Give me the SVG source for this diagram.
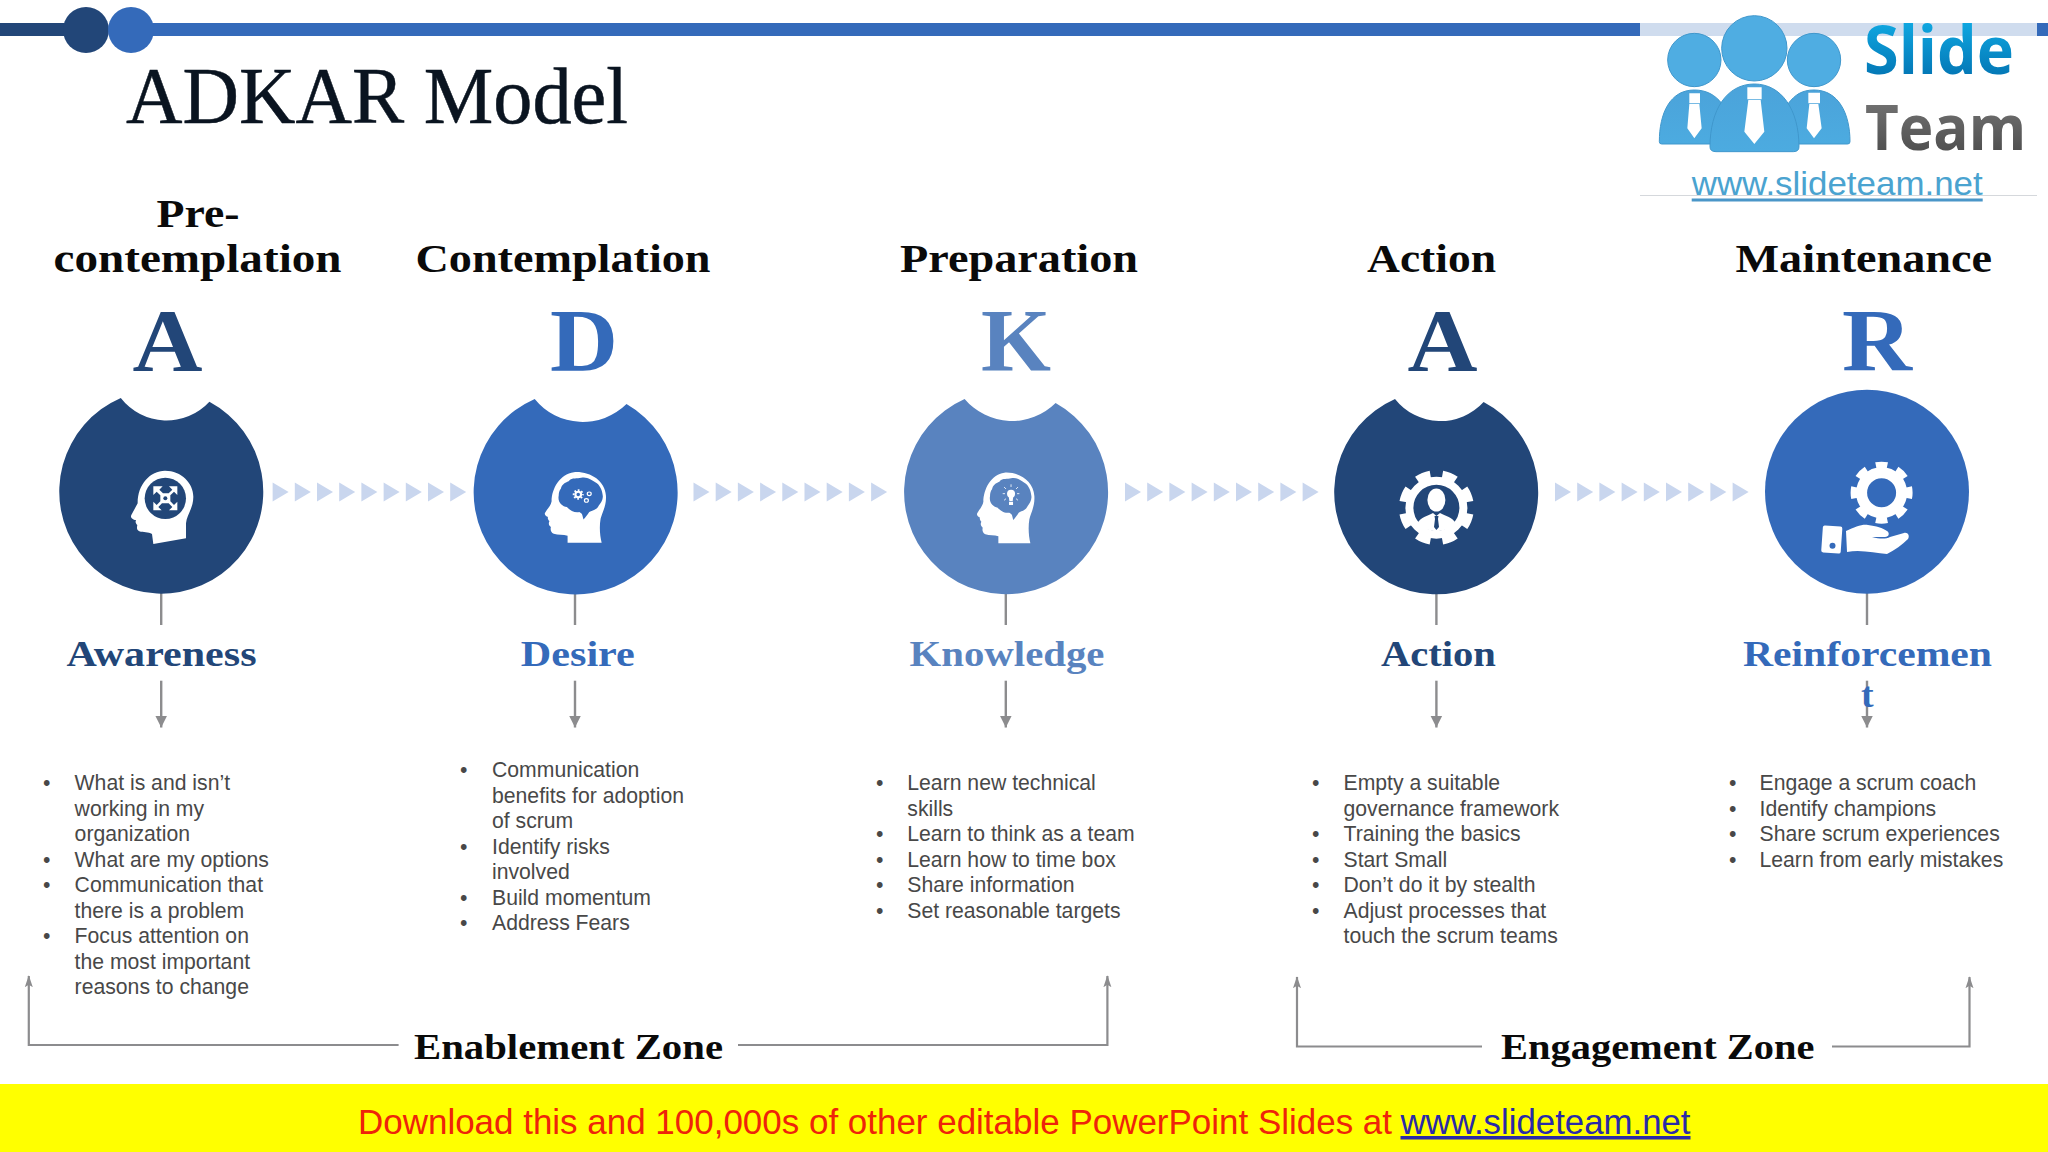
<svg xmlns="http://www.w3.org/2000/svg" width="2048" height="1152" viewBox="0 0 2048 1152">
<style>
.ser{font-family:"Liberation Serif",serif;font-weight:700}
.head{font-size:41px;fill:#0a0a0a;text-anchor:start}
.let{font-size:88px}
.lab{font-size:35px}
.zone{font-size:35px;fill:#0a0a0a}
.body{font-family:"Liberation Sans",Arial,sans-serif;font-size:21.2px;fill:#484848}
.dark{fill:#224678}.mid{fill:#346aba}.light{fill:#5983bf}
.ln{stroke:#8c8c8e;stroke-width:2.4;fill:none}
.zn{stroke:#8c8c8e;stroke-width:2.2;fill:none;marker-end:url(#up)}
.chev{fill:#c9d6ee}
.w{fill:#fff}
</style>
<defs>
<marker id="down" markerUnits="userSpaceOnUse" markerWidth="13" markerHeight="13" refX="12" refY="6" orient="auto" viewBox="0 0 13 12"><path d="M0 0L12 6L0 12Z" fill="#8c8c8e"/></marker>
<marker id="up" markerUnits="userSpaceOnUse" markerWidth="12" markerHeight="16" refX="14" refY="5" orient="auto" viewBox="0 0 15 10"><path d="M0 0L15 5L0 10L3 5Z" fill="#8c8c8e"/></marker>
<linearGradient id="gSlide" x1="0" y1="0" x2="0" y2="1"><stop offset="0" stop-color="#13b8f0"/><stop offset="1" stop-color="#0068a8"/></linearGradient>
<linearGradient id="gTeam" x1="0" y1="0" x2="0" y2="1"><stop offset="0" stop-color="#7d7d7d"/><stop offset="1" stop-color="#454545"/></linearGradient>
<linearGradient id="gBody" x1="0" y1="0" x2="0" y2="1"><stop offset="0" stop-color="#4ba3da"/><stop offset="1" stop-color="#4cabe0"/></linearGradient>
<g id="chevs">
<path class="chev" d="M0 -9.5L16 0L0 9.5Z"/><path class="chev" d="M22.2 -9.5L38.2 0L22.2 9.5Z"/><path class="chev" d="M44.4 -9.5L60.4 0L44.4 9.5Z"/><path class="chev" d="M66.6 -9.5L82.6 0L66.6 9.5Z"/><path class="chev" d="M88.8 -9.5L104.8 0L88.8 9.5Z"/><path class="chev" d="M111 -9.5L127 0L111 9.5Z"/><path class="chev" d="M133.2 -9.5L149.2 0L133.2 9.5Z"/><path class="chev" d="M155.4 -9.5L171.4 0L155.4 9.5Z"/><path class="chev" d="M177.6 -9.5L193.6 0L177.6 9.5Z"/>
</g>
<path id="headShape" d="M125 35C170 32 212 60 215 105C217 135 205 155 200 175C196 200 198 225 203 247L107 247L107 226C95 222 80 224 68 220C60 217 58 208 60 200C55 195 52 190 56 182C52 178 50 172 52 170C46 168 40 162 44 156C50 145 60 135 62 122C62 85 85 40 125 35Z"/>
<path id="brainShape" d="M88 85C90 72 100 66 110 62C120 50 135 56 145 52C160 47 175 58 185 65C198 72 205 90 206 105C208 118 200 128 195 135C188 150 175 150 168 155C162 165 158 170 152 177C148 165 150 160 140 155C125 158 112 148 105 140C92 138 78 125 82 105C82 97 84 90 88 85Z"/>
</defs>

<rect width="2048" height="1152" fill="#fff"/>

<g id="top-bar">
<rect x="0" y="23" width="90" height="13" class="dark"/>
<rect x="131" y="23" width="1509" height="13" class="mid"/>
<rect x="2037" y="23" width="11" height="13" class="mid"/>
<circle cx="86" cy="30" r="23" class="dark"/>
<circle cx="131" cy="30" r="23" class="mid"/>
</g>

<g id="logo">
<rect x="1640" y="0" width="397" height="195" fill="#fff"/>
<rect x="1640" y="23" width="397" height="13" fill="#cfdcee"/>
<line x1="1640" y1="195.5" x2="2037" y2="195.5" stroke="#d5d8dc" stroke-width="1"/>
<g transform="translate(1600 0) scale(.33333)">
<circle cx="283" cy="180" r="80" fill="#4fade2" stroke="#3f97cc" stroke-width="3"/>
<circle cx="642" cy="180" r="80" fill="#4fade2" stroke="#3f97cc" stroke-width="3"/>
<circle cx="463" cy="145" r="98" fill="#4fade2" stroke="#3f97cc" stroke-width="3"/>
<path d="M178 425C178 340 210 270 283 270C320 270 345 285 365 310L365 432L185 432Q178 432 178 425Z" fill="url(#gBody)" stroke="#3f97cc" stroke-width="3"/>
<path d="M750 425C750 340 715 270 642 270C605 270 585 285 565 310L565 432L743 432Q750 432 750 425Z" fill="url(#gBody)" stroke="#3f97cc" stroke-width="3"/>
<path d="M330 440C330 330 380 252 463 252C545 252 597 330 597 440Q597 455 580 455L348 455Q330 455 330 440Z" fill="url(#gBody)" stroke="#3f97cc" stroke-width="3"/>
<path class="w" d="M268 280H300V310H268ZM268 312H298L305 385L283 415L262 385Z"/>
<path class="w" d="M442 262H485V298H442ZM445 300H482L493 395L463 432L433 395Z"/>
<path class="w" d="M625 278H660V310H625ZM628 312H655L665 385L642 415L620 385Z"/>
</g>
<text x="1864" y="74" font-family="Open Sans,sans-serif" font-weight="700" font-size="66" fill="url(#gSlide)" textLength="150" lengthAdjust="spacingAndGlyphs">Slide</text>
<text x="1865" y="150" font-family="Open Sans,sans-serif" font-weight="700" font-size="62" fill="url(#gTeam)" textLength="161" lengthAdjust="spacingAndGlyphs">Team</text>
<text x="1691.7" y="195" font-family="Liberation Sans,sans-serif" font-size="33" fill="#4aa3d0" textLength="291" lengthAdjust="spacingAndGlyphs">www.slideteam.net</text>
<rect x="1691.7" y="198.5" width="291" height="3" fill="#4a96c8"/>
</g>

<text id="title" x="126" y="123.3" font-family="Liberation Serif,serif" font-size="80" fill="#0a1420" stroke="#0a1420" stroke-width=".5" textLength="502" lengthAdjust="spacingAndGlyphs">ADKAR Model</text>

<g id="connectors">
<use href="#chevs" transform="translate(272.6 492)"/>
<use href="#chevs" transform="translate(693.5 492)"/>
<use href="#chevs" transform="translate(1125 492)"/>
<use href="#chevs" transform="translate(1555 492)"/>
<path class="ln" d="M161.2 593V625"/><path class="ln" d="M161.2 680.7V727.5" marker-end="url(#down)"/>
<path class="ln" d="M575 593V625"/><path class="ln" d="M575 680.7V727.5" marker-end="url(#down)"/>
<path class="ln" d="M1005.8 593V625"/><path class="ln" d="M1005.8 680.7V727.5" marker-end="url(#down)"/>
<path class="ln" d="M1436.4 593V625"/><path class="ln" d="M1436.4 680.7V727.5" marker-end="url(#down)"/>
<path class="ln" d="M1867 593V625"/><path class="ln" d="M1867 680.7V727.5" marker-end="url(#down)"/>
<path class="zn" d="M398.6 1045H28.8V976"/>
<path class="zn" d="M738 1045H1107.4V976"/>
<path class="zn" d="M1482 1046.5H1297V977"/>
<path class="zn" d="M1832 1046.5H1969.5V977"/>
</g>

<g id="node-awareness">
<text class="ser head" x="156.5" y="226.5" textLength="83" lengthAdjust="spacingAndGlyphs">Pre-</text>
<text class="ser head" x="53.5" y="272" textLength="288" lengthAdjust="spacingAndGlyphs">contemplation</text>
<text class="ser let dark" x="132.5" y="370" textLength="70" lengthAdjust="spacingAndGlyphs">A</text>
<path class="dark" d="M120.8 398A102 102 0 1 0 209.4 401.7A58 58 0 0 1 120.8 398Z"/>
<g transform="translate(120 460) scale(.33333)">
<path class="w" d="M135 32C185 32 220 70 220 110C220 145 200 165 198 190L198 235L100 252L96 222C85 215 70 218 58 214C50 210 50 205 52 195C46 190 46 185 48 180C38 180 30 172 34 165L53 130C52 75 90 32 135 32Z"/>
<circle class="dark" cx="136" cy="115" r="62"/>
<path class="w" d="M100 79H128L118 89L129 100L146 100L157 89L147 79H172V105L162 95L151 106V124L162 135L172 125V151H147L157 141L146 130H126L115 141L125 151H100V125L110 135L121 124V106L110 95L100 105Z"/>
<circle class="dark" cx="136" cy="115" r="6"/>
</g>
<text class="ser lab dark" x="66.5" y="666" textLength="190" lengthAdjust="spacingAndGlyphs">Awareness</text>
<text class="body"><tspan x="43" y="790">•</tspan><tspan x="74.6" y="790">What is and isn’t</tspan><tspan x="74.6" y="815.5">working in my</tspan><tspan x="74.6" y="841">organization</tspan><tspan x="43" y="866.5">•</tspan><tspan x="74.6" y="866.5">What are my options</tspan><tspan x="43" y="892">•</tspan><tspan x="74.6" y="892">Communication that</tspan><tspan x="74.6" y="917.5">there is a problem</tspan><tspan x="43" y="943">•</tspan><tspan x="74.6" y="943">Focus attention on</tspan><tspan x="74.6" y="968.5">the most important</tspan><tspan x="74.6" y="994">reasons to change</tspan></text>
</g>

<g id="node-desire">
<text class="ser head" x="415.5" y="272" textLength="295" lengthAdjust="spacingAndGlyphs">Contemplation</text>
<text class="ser let mid" x="550" y="370" textLength="68" lengthAdjust="spacingAndGlyphs">D</text>
<path class="mid" d="M534.7 399A102 102 0 1 0 626.5 404A62 62 0 0 1 534.7 399Z"/>
<g transform="translate(529.6 460.5) scale(.355 .333)">
<use href="#headShape" class="w"/>
<use href="#brainShape" class="mid"/>
<circle cx="137" cy="102" r="8" fill="none" stroke="#fff" stroke-width="6"/>
<circle cx="137" cy="102" r="13" fill="none" stroke="#fff" stroke-width="5" pathLength="80" stroke-dasharray="5 5" stroke-dashoffset="2.5"/>
<circle cx="168" cy="100" r="5.5" fill="none" stroke="#fff" stroke-width="3.5"/>
<circle cx="160" cy="120" r="5.5" fill="none" stroke="#fff" stroke-width="3.5"/>
</g>
<text class="ser lab mid" x="520.8" y="666" textLength="114" lengthAdjust="spacingAndGlyphs">Desire</text>
<text class="body"><tspan x="460" y="777.4">•</tspan><tspan x="492" y="777.4">Communication</tspan><tspan x="492" y="802.9">benefits for adoption</tspan><tspan x="492" y="828.4">of scrum</tspan><tspan x="460" y="853.9">•</tspan><tspan x="492" y="853.9">Identify risks</tspan><tspan x="492" y="879.4">involved</tspan><tspan x="460" y="904.9">•</tspan><tspan x="492" y="904.9">Build momentum</tspan><tspan x="460" y="930.4">•</tspan><tspan x="492" y="930.4">Address Fears</tspan></text>
</g>

<g id="node-knowledge">
<text class="ser head" x="900" y="272" textLength="238" lengthAdjust="spacingAndGlyphs">Preparation</text>
<text class="ser let light" x="981" y="370" textLength="70" lengthAdjust="spacingAndGlyphs">K</text>
<path class="light" d="M964.6 399A102 102 0 1 0 1055.6 403A62 62 0 0 1 964.6 399Z"/>
<g transform="translate(962.7 461) scale(.33333)">
<use href="#headShape" class="w"/>
<use href="#brainShape" class="light"/>
<circle class="w" cx="145" cy="98" r="12"/>
<path class="w" d="M138 106H152L150 120H140ZM139 122H151V132H139Z"/>
<path d="M145 70V78M120 98H127M163 98H170M124 78L130 84M166 78L160 84M124 118L130 113M166 118L160 113" stroke="#fff" stroke-width="2.5" fill="none"/>
</g>
<text class="ser lab light" x="909.5" y="666" textLength="195" lengthAdjust="spacingAndGlyphs">Knowledge</text>
<text class="body"><tspan x="876" y="790">•</tspan><tspan x="907.3" y="790">Learn new technical</tspan><tspan x="907.3" y="815.5">skills</tspan><tspan x="876" y="841">•</tspan><tspan x="907.3" y="841">Learn to think as a team</tspan><tspan x="876" y="866.5">•</tspan><tspan x="907.3" y="866.5">Learn how to time box</tspan><tspan x="876" y="892">•</tspan><tspan x="907.3" y="892">Share information</tspan><tspan x="876" y="917.5">•</tspan><tspan x="907.3" y="917.5">Set reasonable targets</tspan></text>
</g>

<g id="node-action">
<text class="ser head" x="1367" y="272" textLength="129" lengthAdjust="spacingAndGlyphs">Action</text>
<text class="ser let dark" x="1407.5" y="370" textLength="70" lengthAdjust="spacingAndGlyphs">A</text>
<path class="dark" d="M1395 399A102 102 0 1 0 1483.6 402A58 58 0 0 1 1395 399Z"/>
<g>
<circle cx="1436.4" cy="507.7" r="27" fill="none" stroke="#fff" stroke-width="8"/>
<circle cx="1436.4" cy="507.7" r="33" fill="none" stroke="#fff" stroke-width="9" pathLength="80" stroke-dasharray="5.4 4.6" stroke-dashoffset="-2.3"/>
<ellipse class="w" cx="1436.4" cy="500" rx="9" ry="11.5"/>
<path class="w" d="M1417 524C1420 517 1428 516 1433 513L1436.4 516L1440 513C1445 516 1453 517 1456 524C1450 529 1443 531 1436.4 531C1430 531 1423 529 1417 524Z"/>
<path class="dark" d="M1434.5 516H1438.5L1438 519L1439 527L1436.4 530L1434 527L1435 519Z"/>
</g>
<text class="ser lab dark" x="1380.9" y="666" textLength="115" lengthAdjust="spacingAndGlyphs">Action</text>
<text class="body"><tspan x="1312" y="790">•</tspan><tspan x="1343.5" y="790">Empty a suitable</tspan><tspan x="1343.5" y="815.5">governance framework</tspan><tspan x="1312" y="841">•</tspan><tspan x="1343.5" y="841">Training the basics</tspan><tspan x="1312" y="866.5">•</tspan><tspan x="1343.5" y="866.5">Start Small</tspan><tspan x="1312" y="892">•</tspan><tspan x="1343.5" y="892">Don’t do it by stealth</tspan><tspan x="1312" y="917.5">•</tspan><tspan x="1343.5" y="917.5">Adjust processes that</tspan><tspan x="1343.5" y="943">touch the scrum teams</tspan></text>
</g>

<g id="node-reinforcement">
<text class="ser head" x="1735.5" y="272" textLength="256.5" lengthAdjust="spacingAndGlyphs">Maintenance</text>
<text class="ser let mid" x="1842" y="370" textLength="70" lengthAdjust="spacingAndGlyphs">R</text>
<circle class="mid" cx="1867" cy="491.7" r="102"/>
<g>
<circle cx="1881.6" cy="492.7" r="20" fill="none" stroke="#fff" stroke-width="11"/>
<circle cx="1881.6" cy="492.7" r="27" fill="none" stroke="#fff" stroke-width="8" pathLength="80" stroke-dasharray="5.4 4.6" stroke-dashoffset="2.7"/>
<rect class="w" x="1822" y="526" width="19.5" height="27" rx="2" transform="rotate(4 1832 540)"/>
<circle class="mid" cx="1832.5" cy="545.7" r="3"/>
<path class="w" d="M1846 531C1855 527 1862 524 1868 525C1876 526 1883 528 1887 531C1890 533 1889 537 1885 537L1872 537C1880 539 1886 539 1890 537L1904 533C1908 532 1910 536 1908 539C1902 545 1895 550 1887 554C1875 553 1860 549 1847 552Z"/>
</g>
<text class="ser lab mid" x="1743" y="666" textLength="249" lengthAdjust="spacingAndGlyphs">Reinforcemen</text>
<text class="ser lab mid" x="1861" y="707" textLength="12.6" lengthAdjust="spacingAndGlyphs">t</text>
<text class="body"><tspan x="1729" y="790">•</tspan><tspan x="1759.5" y="790">Engage a scrum coach</tspan><tspan x="1729" y="815.5">•</tspan><tspan x="1759.5" y="815.5">Identify champions</tspan><tspan x="1729" y="841">•</tspan><tspan x="1759.5" y="841">Share scrum experiences</tspan><tspan x="1729" y="866.5">•</tspan><tspan x="1759.5" y="866.5">Learn from early mistakes</tspan></text>
</g>

<g id="zones">
<text class="ser zone" x="414" y="1059" textLength="309" lengthAdjust="spacingAndGlyphs">Enablement Zone</text>
<text class="ser zone" x="1501" y="1059" textLength="313.5" lengthAdjust="spacingAndGlyphs">Engagement Zone</text>
</g>

<g id="footer">
<rect x="0" y="1084" width="2048" height="68" fill="#ffff00"/>
<text x="358" y="1134" font-family="Liberation Sans,sans-serif" font-size="35" fill="#ee240a" textLength="1034" lengthAdjust="spacingAndGlyphs">Download this and 100,000s of other editable PowerPoint Slides at</text>
<text x="1400.5" y="1134" font-family="Liberation Sans,sans-serif" font-size="35" fill="#2a2aa8" text-decoration="underline" textLength="290" lengthAdjust="spacingAndGlyphs">www.slideteam.net</text>
</g>
</svg>
